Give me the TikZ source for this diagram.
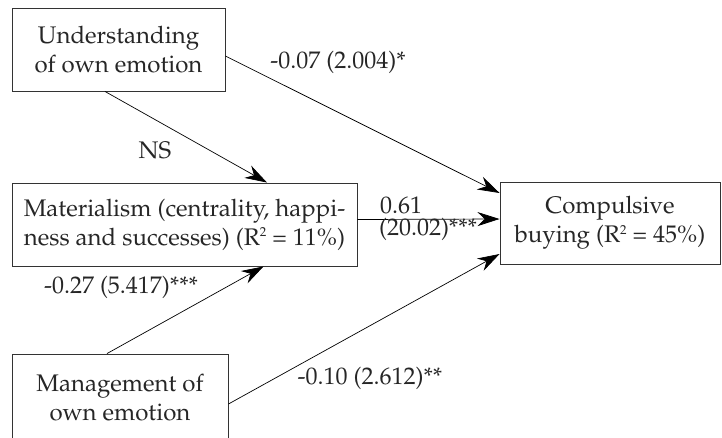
\documentclass[tikz,border=0pt]{standalone}
\usepackage[T1]{fontenc}
\usepackage{mathpazo}
\usepackage{tikz}
\usetikzlibrary{arrows.meta}
\tikzset{box/.style={draw=black!80, line width=0.9pt, align=center, inner sep=0pt, text=black!85, font=\fontsize{24}{29}\selectfont}, lbl/.style={font=\fontsize{24}{29}\selectfont, text=black!85, inner sep=0pt}}
\newcommand{\sqsup}{\raisebox{0.75ex}{\fontsize{13}{13}\selectfont 2}}

\begin{document}
\begin{tikzpicture}[x=1pt, y=-1pt, >={Stealth[length=22pt, width=14pt]}]
\useasboundingbox (0,0) rectangle (722,437);
\clip (0,0) rectangle (722,437);
\node[box, minimum width=213pt, minimum height=83pt] (und) at (118.5,49.5) {Understanding\\of own emotion};
\node[box, minimum width=345pt, minimum height=83pt] (mat) at (184.5,224.5) {Materialism (centrality, happi-\\ness and successes) (R\sqsup\ = 11\%)};
\node[box, minimum width=220pt, minimum height=82pt] (comp) at (610,223) {Compulsive\\buying (R\sqsup\ = 45\%)};
\node[box, minimum width=216pt, minimum height=88pt] (man) at (120,398) {Management of\\own emotion};
\draw[->, line width=0.7pt] ([yshift=-6.5pt]und.east) -- ([yshift=30pt]comp.west);
\draw[->, line width=0.7pt] ([xshift=-13.5pt]und.south) -- ([xshift=82.5pt]mat.north);
\draw[->, line width=0.7pt] ([yshift=5pt]mat.east) -- ([yshift=4pt]comp.west);
\draw[->, line width=0.7pt] ([xshift=-13pt]man.north) -- ([xshift=79pt]mat.south);
\draw[->, line width=0.7pt] ([yshift=-6pt]man.east) -- ([yshift=-31pt]comp.west);
\node[lbl] (l1) at (338,62) {-0.07 (2.004)*};
\node[lbl] (l2) at (155,150) {NS};
\node[lbl] (l3) at (401,205) {0.61};
\node[lbl] (l4) at (428,229) {(20.02)***};
\node[lbl] (l5) at (121,287) {-0.27 (5.417)***};
\node[lbl] (l6) at (370,378) {-0.10 (2.612)**};
\end{tikzpicture}
\end{document}
